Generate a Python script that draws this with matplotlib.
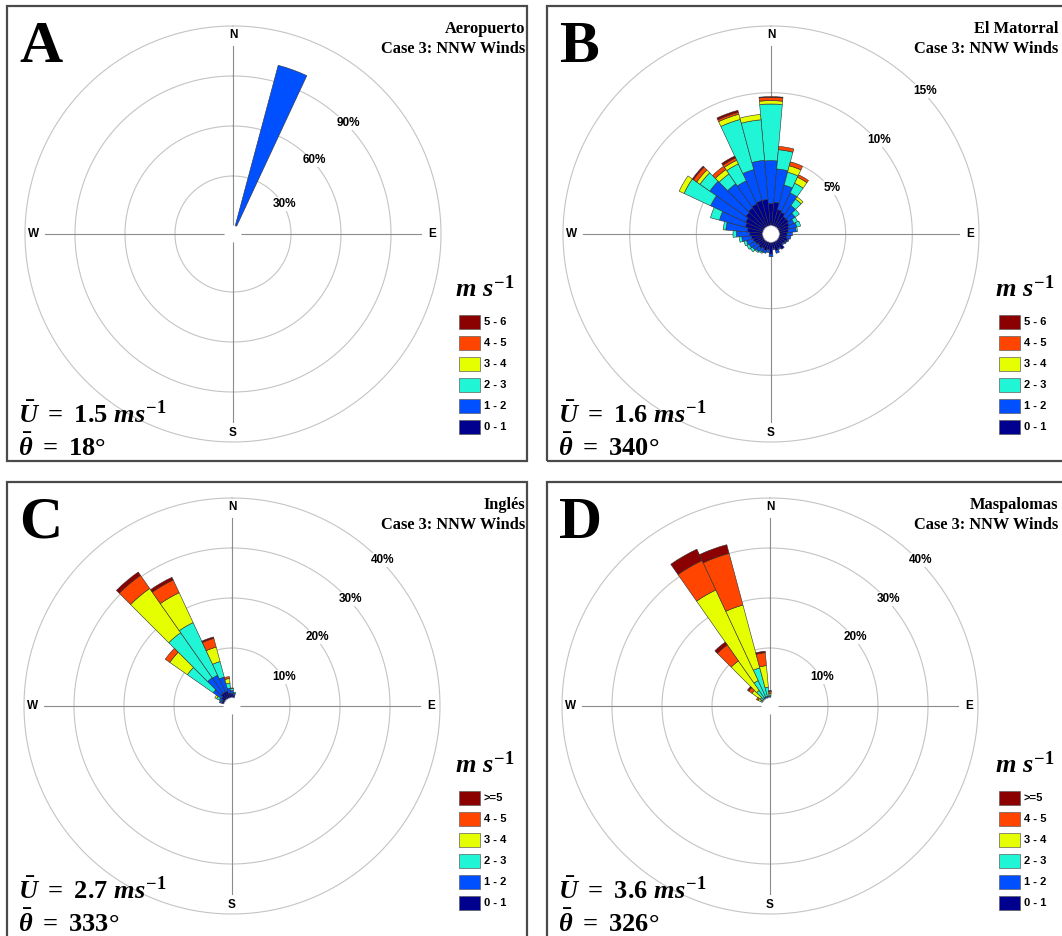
import numpy as np
import matplotlib.pyplot as plt
from matplotlib.patches import Rectangle, Circle

plt.rcParams['mathtext.fontset'] = 'custom'
plt.rcParams['mathtext.it'] = 'Liberation Serif:italic:bold'
plt.rcParams['mathtext.rm'] = 'Liberation Serif:bold'
plt.rcParams['mathtext.bf'] = 'Liberation Serif:bold'

W, H = 1062, 936
R, HOLE = 208, 8

speed_colors = ['#00008F', '#0050FF', '#20F5D5', '#E5FF00', '#FF4500', '#8B0000']
labels_ab = ['0 - 1', '1 - 2', '2 - 3', '3 - 4', '4 - 5', '5 - 6']
labels_cd = ['0 - 1', '1 - 2', '2 - 3', '3 - 4', '4 - 5', '>=5']

# A - Aeropuerto (% per direction and speed class)
a_dirs = [20]
a_0_1 = [0]
a_1_2 = [100]
a_2_3 = [0]
a_3_4 = [0]
a_4_5 = [0]
a_5_6 = [0]

# B - El Matorral, every 10 degrees from N
b_dirs = list(range(0, 360, 10))
b_0_1 = [1.7, 1.8, 1.3, 1.2, 1.0, 1.0, 0.9, 0.8, 0.7, 0.6, 0.6, 0.7, 0.6, 0.5, 0.8, 0.6, 0.7, 0.5,
         0.9, 0.6, 0.7, 0.6, 0.7, 0.6, 0.7, 0.8, 0.9, 1.0, 1.2, 1.4, 1.5, 1.7, 1.8, 1.9, 2.0, 2.0]
b_1_2 = [3.2, 2.5, 1.9, 1.6, 1.0, 0.6, 0.4, 0.6, 0.6, 0.4, 0.3, 0.1, 0.1, 0.1, 0.0, 0.1, 0.2, 0.1,
         0.2, 0.2, 0.2, 0.3, 0.3, 0.5, 0.5, 0.5, 0.7, 1.0, 1.6, 2.0, 2.9, 3.3, 2.2, 1.9, 2.4, 2.95]
b_2_3 = [4.25, 1.45, 1.0, 0.8, 0.6, 0.4, 0.3, 0.3, 0.1, 0, 0, 0, 0, 0, 0, 0, 0, 0,
         0, 0, 0, 0.1, 0.1, 0.2, 0.2, 0.2, 0.2, 0.25, 0.2, 0.7, 2.2, 0.9, 0.9, 1.4, 3.9, 3.05]
b_3_4 = [0.25, 0, 0.5, 0.5, 0.2, 0, 0, 0, 0, 0, 0, 0, 0, 0, 0, 0, 0, 0,
         0, 0, 0, 0, 0, 0, 0, 0, 0, 0, 0, 0, 0.4, 0.3, 0.4, 0.3, 0.4, 0.4]
b_4_5 = [0.25, 0.25, 0.3, 0.2, 0, 0, 0, 0, 0, 0, 0, 0, 0, 0, 0, 0, 0, 0,
         0, 0, 0, 0, 0, 0, 0, 0, 0, 0, 0, 0, 0, 0.3, 0.3, 0.2, 0.15, 0]
b_5_6 = [0.05, 0, 0, 0, 0, 0, 0, 0, 0, 0, 0, 0, 0, 0, 0, 0, 0, 0,
         0, 0, 0, 0, 0, 0, 0, 0, 0, 0, 0, 0, 0, 0.1, 0, 0.15, 0.15, 0]

# C - Ingles
c_dirs = [290, 300, 310, 320, 330, 340, 350, 0, 10]
c_0_1 = [0.5, 0.6, 1.0, 1.5, 1.5, 1.5, 1.0, 0.8, 0.6]
c_1_2 = [0.4, 0.6, 2.0, 3.8, 3.7, 2.9, 1.0, 0.7, 0.4]
c_2_3 = [0.1, 0.6, 6.3, 11.0, 11.6, 3.2, 1.0, 0.4, 0.2]
c_3_4 = [0, 0.4, 4.3, 10.8, 6.6, 3.0, 0.9, 0.1, 0]
c_4_5 = [0, 0, 1.1, 3.2, 2.8, 1.8, 0.4, 0, 0]
c_5 = [0, 0, 0, 0.8, 0.6, 0.3, 0, 0, 0]

# D - Maspalomas
d_dirs = [300, 310, 320, 330, 340, 350, 0]
d_0_1 = [0.1, 0.1, 0.1, 0.1, 0.1, 0.1, 0.1]
d_1_2 = [0.1, 0.1, 0.2, 0.3, 0.3, 0.3, 0.2]
d_2_3 = [0.3, 0.6, 1.9, 3.6, 5.9, 1.8, 0.3]
d_3_4 = [0.5, 2.0, 7.2, 20.0, 13.0, 4.3, 0.3]
d_4_5 = [0.4, 0.8, 3.9, 6.5, 10.7, 2.6, 0.4]
d_5 = [0, 0.3, 0.7, 2.5, 1.8, 0.3, 0.2]

mean_speed = ['1.5', '1.6', '2.7', '3.6']
mean_dir = ['18', '340', '333', '326']

fig = plt.figure(figsize=(W / 100, H / 100), dpi=100)


def fx(x):
    return x / W


def fy(y):
    return 1 - y / H


def rose(cx, cy, rmax, rings, ring_labels, ring_angles, dirs, bins):
    ax = fig.add_axes([fx(cx - R), fy(cy + R), 2 * R / W, 2 * R / H], projection='polar')
    hole = rmax * HOLE / (R - HOLE)
    ax.set_theta_zero_location('N')
    ax.set_theta_direction(-1)
    ax.set_ylim(0, rmax)
    ax.set_rorigin(-hole)
    ax.set_xticks([])
    ax.set_yticks([])
    ax.grid(False)
    ax.patch.set_visible(False)
    ax.axis('off')

    def val(rpx):
        return rpx / R * (rmax + hole) - hole

    t = np.linspace(0, 2 * np.pi, 400)
    for rv in rings:
        ax.plot(t, np.full_like(t, rv), color='#c4c4c4', lw=0.8, clip_on=False, zorder=1)
    for ang, lab in zip((0, 90, 180, 270), 'NESW'):
        ax.plot([np.radians(ang)] * 2, [0, val(188)], color='#8c8c8c', lw=0.8, zorder=1)
        ax.text(np.radians(ang), val(199), lab, ha='center', va='center', fontsize=8.5,
                fontweight='bold', family='Liberation Sans', zorder=5)
    for rv, a in zip(ring_labels, ring_angles):
        rpx = HOLE + (R - HOLE) * rv / rmax + 2
        ax.text(np.radians(a), val(rpx), f'{rv}%', ha='center', va='center', fontsize=8.5,
                fontweight='bold', family='Liberation Sans', zorder=5,
                bbox=dict(fc='white', ec='none', pad=0.6))

    theta = np.radians(dirs)
    bottom = np.zeros(len(dirs))
    for vals, col in zip(bins, speed_colors):
        vals = np.asarray(vals, float)
        m = vals > 0
        ax.bar(theta[m], vals[m], width=np.radians(10), bottom=bottom[m], color=col,
               edgecolor='#303030', linewidth=0.4, zorder=2)
        bottom += vals
    # white centre hole
    ax.add_artist(Circle((0.5, 0.5), (HOLE + 0.5) / (2 * R), transform=ax.transAxes,
                         fc='white', ec='none', zorder=6))
    return ax


def frame(bx, by, bw, bh, letter, site, labels, k, title_x):
    fig.add_artist(Rectangle((fx(bx), fy(by + bh)), bw / W, bh / H, transform=fig.transFigure,
                             fill=False, ec='#4a4a4a', lw=1.6))
    fig.text(fx(bx + 12), fy(by + 56), letter, ha='left', va='baseline', fontsize=43,
             fontweight='bold', family='Liberation Serif')
    fig.text(fx(bx + title_x), fy(by + 27), site, ha='right', va='baseline', fontsize=11.8,
             fontweight='bold', family='Liberation Serif')
    fig.text(fx(bx + title_x), fy(by + 47), 'Case 3: NNW Winds', ha='right', va='baseline',
             fontsize=11.8, fontweight='bold', family='Liberation Serif')
    fig.text(fx(bx + 478), fy(by + 284), r'$m\ s^{-1}$', ha='center', va='center',
             fontsize=19)
    for i, (lab, col) in enumerate(zip(labels[::-1], speed_colors[::-1])):
        yc = by + 316 + 21 * i
        fig.add_artist(Rectangle((fx(bx + 452), fy(yc + 7)), 21 / W, 14 / H,
                                 transform=fig.transFigure, fc=col, ec='#606060', lw=0.5))
        fig.text(fx(bx + 477), fy(yc), lab, ha='left', va='center', fontsize=8,
                 fontweight='bold', family='Liberation Sans')
    fig.text(fx(bx + 11), fy(by + 417),
             r'$\bar{U}\ =\ ' + mean_speed[k] + r'\ ms^{-1}$',
             ha='left', va='baseline', fontsize=19)
    fig.text(fx(bx + 11), fy(by + 450),
             r'$\bar{\theta}\ =\ ' + mean_dir[k] + r'\mathrm{°}$',
             ha='left', va='baseline', fontsize=19)


frame(7, 6, 520, 455, 'A', 'Aeropuerto', labels_ab, 0, 518)
frame(547, 6, 530, 455, 'B', 'El Matorral', labels_ab, 1, 511)
frame(7, 482, 520, 460, 'C', 'Inglés', labels_cd, 2, 518)
frame(547, 482, 530, 460, 'D', 'Maspalomas', labels_cd, 3, 511)

rose(233, 234, 120, [30, 60, 90, 120], [30, 60, 90], [60, 48, 46], a_dirs,
     [a_0_1, a_1_2, a_2_3, a_3_4, a_4_5, a_5_6])
rose(771, 234, 15, [5, 10, 15], [5, 10, 15], [53, 49, 47], b_dirs,
     [b_0_1, b_1_2, b_2_3, b_3_4, b_4_5, b_5_6])
rose(232, 706, 40, [10, 20, 30, 40], [10, 20, 30, 40], [61, 51, 48, 46], c_dirs,
     [c_0_1, c_1_2, c_2_3, c_3_4, c_4_5, c_5])
rose(770, 706, 40, [10, 20, 30, 40], [10, 20, 30, 40], [61, 51, 48, 46], d_dirs,
     [d_0_1, d_1_2, d_2_3, d_3_4, d_4_5, d_5])

fig.savefig('out.png', dpi=100)
